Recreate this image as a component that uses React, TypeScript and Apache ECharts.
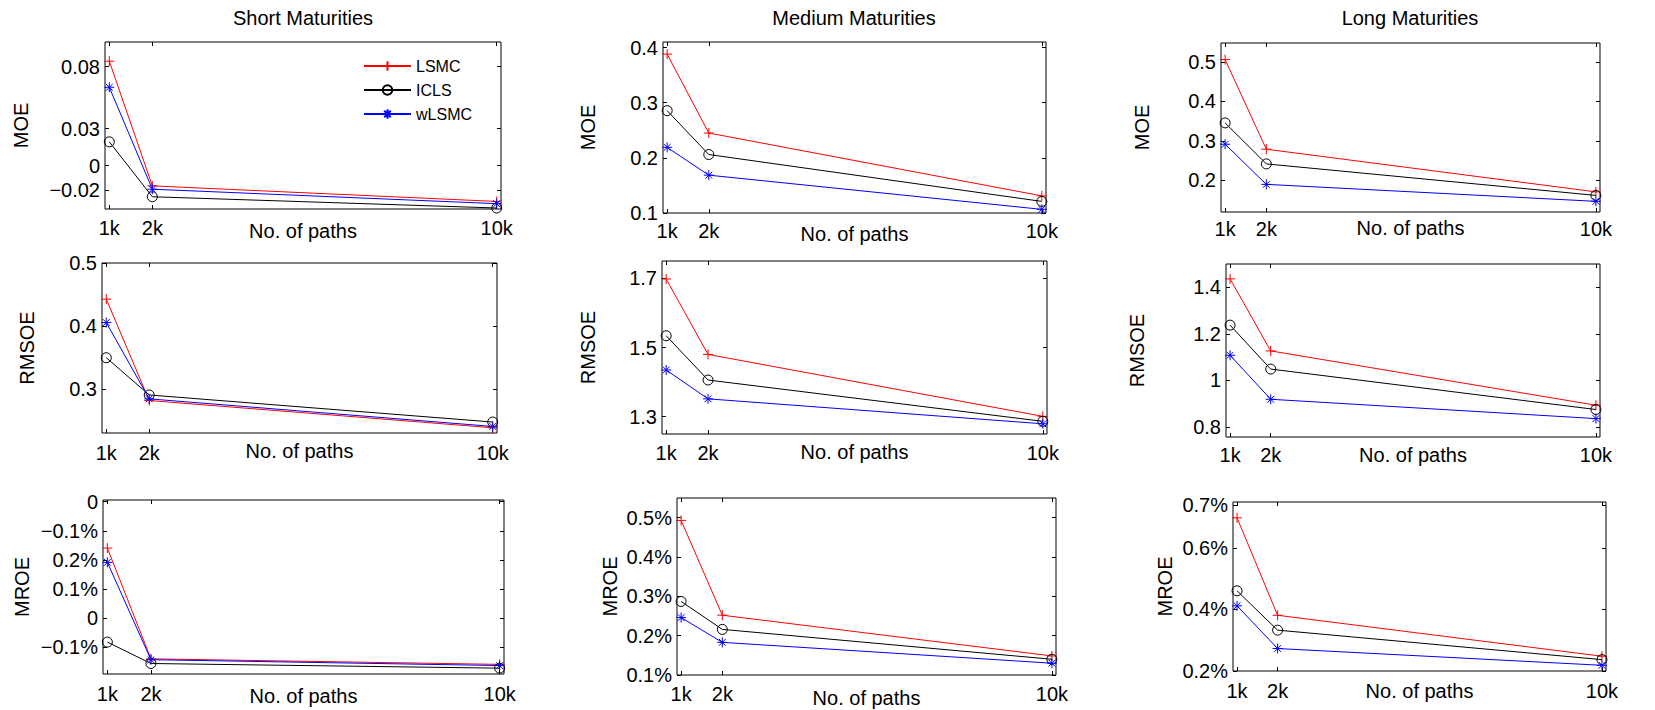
import React, { useEffect, useRef } from 'react';
import * as echarts from 'echarts';

const FONT = '"Liberation Sans", Arial, Helvetica, sans-serif';

// Number of simulated paths on the x axis
const pathCounts = [1000, 2000, 10000];
const pathLabels = ['1k', '2k', '10k'];

const methods = ['LSMC', 'ICLS', 'wLSMC'];
const columnTitles = ['Short Maturities', 'Medium Maturities', 'Long Maturities'];
const rowMetrics = ['MOE', 'RMSOE', 'MROE'];

// Each table: one row per method (LSMC, ICLS, wLSMC), one value per path count
const moeShort = [
  [0.0845, -0.0163, -0.0289],
  [0.0193, -0.0251, -0.0342],
  [0.0634, -0.019, -0.0307],
];
const moeMedium = [
  [0.388, 0.245, 0.131],
  [0.2855, 0.206, 0.121],
  [0.219, 0.1686, 0.1066],
];
const moeLong = [
  [0.506, 0.279, 0.171],
  [0.3456, 0.2418, 0.162],
  [0.2916, 0.19, 0.147],
];
const rmsoeShort = [
  [0.4426, 0.2816, 0.2383],
  [0.3496, 0.2904, 0.2474],
  [0.4054, 0.2842, 0.2404],
];
const rmsoeMedium = [
  [1.698, 1.48, 1.301],
  [1.534, 1.406, 1.2866],
  [1.435, 1.3516, 1.2795],
];
const rmsoeLong = [
  [1.436, 1.1267, 0.8935],
  [1.2375, 1.0487, 0.875],
  [1.108, 0.919, 0.836],
];
// MROE in percent
const mroeShort = [
  [0.241, -0.139, -0.158],
  [-0.0815, -0.155, -0.171],
  [0.192, -0.142, -0.162],
];
const mroeMedium = [
  [0.493, 0.252, 0.1485],
  [0.287, 0.216, 0.14],
  [0.246, 0.183, 0.13],
];
const mroeLong = [
  [0.6976, 0.381, 0.248],
  [0.4605, 0.3327, 0.237],
  [0.4117, 0.273, 0.2185],
];

// Y tick positions and the text printed at each of them
const moeShortTicks = [0.08, 0.03, 0, -0.02];
const moeShortLabels = ['0.08', '0.03', '0', '\u22120.02'];
const moeMediumTicks = [0.4, 0.3, 0.2, 0.1];
const moeMediumLabels = ['0.4', '0.3', '0.2', '0.1'];
const moeLongTicks = [0.5, 0.4, 0.3, 0.2];
const moeLongLabels = ['0.5', '0.4', '0.3', '0.2'];
const rmsoeShortTicks = [0.5, 0.4, 0.3];
const rmsoeShortLabels = ['0.5', '0.4', '0.3'];
const rmsoeMediumTicks = [1.7, 1.5, 1.3];
const rmsoeMediumLabels = ['1.7', '1.5', '1.3'];
const rmsoeLongTicks = [1.4, 1.2, 1, 0.8];
const rmsoeLongLabels = ['1.4', '1.2', '1', '0.8'];
const mroeShortTicks = [0.4, 0.3, 0.2, 0.1, 0, -0.1];
const mroeShortLabels = ['0', '\u22120.1%', '0.2%', '0.1%', '0', '\u22120.1%'];
const mroeMediumTicks = [0.5, 0.4, 0.3, 0.2, 0.1];
const mroeMediumLabels = ['0.5%', '0.4%', '0.3%', '0.2%', '0.1%'];
const mroeLongTicks = [0.74, 0.6, 0.4, 0.2];
const mroeLongLabels = ['0.7%', '0.6%', '0.4%', '0.2%'];

// Line colours and MATLAB-like markers: '+', 'o', '*'
const methodColors = ['#ff0000', '#000000', '#0000ff'];
const methodSymbols = [
  'path://M5,0L5,10M0,5L10,5',
  'path://M10,5A5,5,0,1,1,0,5A5,5,0,1,1,10,5Z',
  'path://M5,0L5,10M0,5L10,5M1.6,1.6L8.4,8.4M8.4,1.6L1.6,8.4',
];

// Panel layout: plot box [left, top, right, bottom] in px, y range, label placement
const panels = [
  { row: 0, col: 0, data: moeShort, ticks: moeShortTicks, labels: moeShortLabels, yMin: -0.035, yMax: 0.1, box: [105, 42, 501, 209], nameX: 21, xNameGap: 12, xLabelMargin: 9 },
  { row: 0, col: 1, data: moeMedium, ticks: moeMediumTicks, labels: moeMediumLabels, yMin: 0.1, yMax: 0.41, box: [663, 42, 1046, 213], nameX: 588, xNameGap: 11, xLabelMargin: 8 },
  { row: 0, col: 2, data: moeLong, ticks: moeLongTicks, labels: moeLongLabels, yMin: 0.12, yMax: 0.548, box: [1221, 43, 1600, 212], nameX: 1142, xNameGap: 6, xLabelMargin: 7 },
  { row: 1, col: 0, data: rmsoeShort, ticks: rmsoeShortTicks, labels: rmsoeShortLabels, yMin: 0.23, yMax: 0.5, box: [102, 263, 497, 433], nameX: 27, xNameGap: 8, xLabelMargin: 10 },
  { row: 1, col: 1, data: rmsoeMedium, ticks: rmsoeMediumTicks, labels: rmsoeMediumLabels, yMin: 1.25, yMax: 1.75, box: [662, 261, 1047, 434], nameX: 588, xNameGap: 8, xLabelMargin: 9 },
  { row: 1, col: 2, data: rmsoeLong, ticks: rmsoeLongTicks, labels: rmsoeLongLabels, yMin: 0.757, yMax: 1.5, box: [1226, 264, 1600, 437], nameX: 1137, xNameGap: 8, xLabelMargin: 8 },
  { row: 2, col: 0, data: mroeShort, ticks: mroeShortTicks, labels: mroeShortLabels, yMin: -0.191, yMax: 0.406, box: [103, 500, 504, 674], nameX: 22, xNameGap: 12, xLabelMargin: 10 },
  { row: 2, col: 1, data: mroeMedium, ticks: mroeMediumTicks, labels: mroeMediumLabels, yMin: 0.1, yMax: 0.55, box: [677, 498, 1056, 675], nameX: 610, xNameGap: 13, xLabelMargin: 9 },
  { row: 2, col: 2, data: mroeLong, ticks: mroeLongTicks, labels: mroeLongLabels, yMin: 0.2, yMax: 0.749, box: [1233, 502, 1606, 671], nameX: 1165, xNameGap: 10, xLabelMargin: 10 },
];

const X_MIN = 900;
const X_MAX = 10100;
const FONT_SIZE = 20;

function labelFor(values: number[], labels: string[]) {
  return (v: number) => {
    const i = values.findIndex((t) => Math.abs(t - v) < 1e-9);
    return i >= 0 ? labels[i] : '';
  };
}

function buildOption() {
  const grid: any[] = [];
  const xAxis: any[] = [];
  const yAxis: any[] = [];
  const series: any[] = [];
  const textStyle = { fontSize: FONT_SIZE, fontFamily: FONT, color: '#000' };
  const tickStyle = { show: true, inside: true, length: 4, lineStyle: { color: '#000', width: 1 } };
  const hiddenLine = { show: false, onZero: false };

  panels.forEach((p, i) => {
    const [l, t, r, b] = p.box;
    grid.push({
      left: l, top: t, width: r - l, height: b - t,
      show: true, borderColor: '#000', borderWidth: 1, backgroundColor: 'transparent',
      containLabel: false,
    });
    // bottom axis with labels
    xAxis.push({
      type: 'value', gridIndex: i, position: 'bottom', min: X_MIN, max: X_MAX,
      axisLine: hiddenLine, splitLine: { show: false },
      axisTick: { ...tickStyle, customValues: pathCounts },
      axisLabel: { ...textStyle, margin: p.xLabelMargin, customValues: pathCounts, formatter: labelFor(pathCounts, pathLabels) },
      name: 'No. of paths', nameLocation: 'middle', nameGap: p.xNameGap, nameMoveOverlap: false,
      nameTextStyle: textStyle,
    });
    // mirrored top ticks
    xAxis.push({
      type: 'value', gridIndex: i, position: 'top', min: X_MIN, max: X_MAX,
      axisLine: hiddenLine, splitLine: { show: false },
      axisTick: { ...tickStyle, customValues: pathCounts },
      axisLabel: { show: false },
    });
    // left axis with labels
    yAxis.push({
      type: 'value', gridIndex: i, position: 'left', min: p.yMin, max: p.yMax,
      axisLine: hiddenLine, splitLine: { show: false },
      axisTick: { ...tickStyle, customValues: p.ticks },
      axisLabel: { ...textStyle, margin: 5, customValues: p.ticks, formatter: labelFor(p.ticks, p.labels) },
      name: rowMetrics[p.row], nameLocation: 'middle', nameRotate: 90,
      nameGap: p.box[0] - p.nameX - 10, nameMoveOverlap: false,
      nameTextStyle: textStyle,
    });
    // mirrored right ticks
    yAxis.push({
      type: 'value', gridIndex: i, position: 'right', min: p.yMin, max: p.yMax,
      axisLine: hiddenLine, splitLine: { show: false },
      axisTick: { ...tickStyle, customValues: p.ticks },
      axisLabel: { show: false },
    });

    methods.forEach((m, k) => {
      series.push({
        type: 'line',
        name: m,
        xAxisIndex: 2 * i,
        yAxisIndex: 2 * i,
        data: pathCounts.map((x, j) => [x, p.data[k][j]]),
        color: methodColors[k],
        symbol: methodSymbols[k],
        symbolSize: 10,
        showSymbol: true,
        lineStyle: { color: methodColors[k], width: 1 },
        itemStyle: { color: 'rgba(0,0,0,0)', borderColor: methodColors[k], borderWidth: 1 },
        emphasis: { disabled: true },
        z: 2 + k,
      });
    });
  });

  const titleCenters = [303, 854, 1410];
  const graphic = columnTitles.map((text, c) => ({
    type: 'text',
    x: titleCenters[c],
    y: 18,
    style: { text, fontSize: FONT_SIZE, fontFamily: FONT, fill: '#000', align: 'center', verticalAlign: 'middle' },
  }));

  return {
    animation: false,
    backgroundColor: '#fff',
    grid,
    xAxis,
    yAxis,
    series,
    graphic,
    legend: {
      data: methods,
      orient: 'vertical',
      left: 363,
      top: 58,
      padding: 0,
      itemWidth: 47,
      itemHeight: 12,
      itemGap: 8,
      selectedMode: false,
      textStyle: { fontSize: 16, fontFamily: FONT, color: '#000' },
    },
  };
}

export default function App() {
  const ref = useRef<HTMLDivElement>(null);
  useEffect(() => {
    if (!ref.current) return;
    const chart = echarts.init(ref.current, undefined, { renderer: 'svg' });
    chart.setOption(buildOption() as any);
    return () => chart.dispose();
  }, []);
  return (
    <div
      ref={ref}
      style={{ position: 'fixed', left: 0, top: 0, width: 1655, height: 710, background: '#fff' }}
    />
  );
}
